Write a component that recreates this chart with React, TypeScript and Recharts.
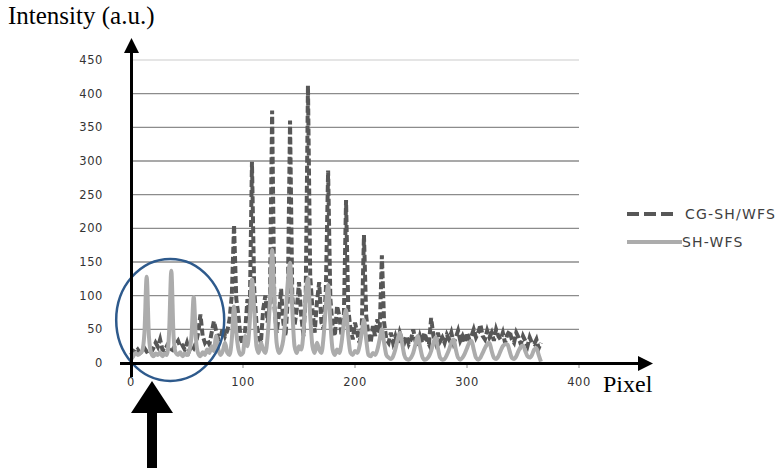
import {
  LineChart,
  Line,
  XAxis,
  YAxis,
  ReferenceLine,
  ReferenceDot,
  Legend,
} from "recharts";

// sampled every 2 pixels, from 0 to 366
const PIXEL_STEP = 2;

const cgShWfs = [
  12, 18, 16, 20, 15, 18, 22, 17, 19, 16,
  22, 30, 24, 35, 20, 18, 25, 20, 16, 22,
  28, 33, 24, 26, 20, 30, 18, 26, 22, 30,
  45, 72, 40, 30, 35, 28, 45, 62, 48, 35,
  38, 52, 40, 48, 65, 100, 205, 95, 70, 35,
  28, 50, 95, 70, 299, 110, 60, 40, 30, 80,
  100, 60, 90, 375, 85, 45, 70, 110, 60, 40,
  95, 360, 100, 55, 80, 120, 70, 40, 100, 412,
  130, 80, 45, 90, 120, 60, 50, 110, 286, 95,
  55, 40, 85, 70, 40, 65, 242, 80, 50, 35,
  60, 45, 30, 50, 190, 70, 40, 30, 55, 40,
  65, 45, 160, 60, 35, 30, 45, 30, 40, 28,
  45, 35, 30, 40, 28, 35, 50, 32, 25, 40,
  30, 45, 35, 28, 67, 40, 30, 45, 32, 38,
  30, 42, 35, 45, 30, 38, 48, 33, 40, 30,
  45, 35, 40, 50, 38, 45, 57, 40, 35, 48,
  38, 45, 33, 50, 40, 35, 45, 30, 42, 48,
  35, 30, 45, 38, 28, 40, 33, 25, 38, 30,
  28, 35, 22, 30,
];

const shWfs = [
  5, 10, 15, 12, 14, 18, 45, 128, 40, 15,
  10, 14, 12, 16, 10, 14, 12, 45, 137, 40,
  15, 12, 16, 10, 14, 12, 18, 40, 98, 35,
  14, 10, 16, 12, 20, 15, 25, 18, 40, 20,
  12, 18, 30, 15, 12, 35, 84, 45, 20, 12,
  15, 40, 25, 60, 124, 80, 25, 15, 30, 20,
  15, 40, 90, 168, 95, 30, 15, 20, 35, 70,
  120, 149, 80, 25, 15, 25, 20, 45, 100, 126,
  70, 25, 15, 30, 20, 15, 40, 85, 116, 60,
  20, 12, 20, 15, 30, 60, 79, 40, 15, 12,
  18, 15, 25, 45, 64, 35, 12, 10, 15, 12,
  20, 35, 50, 30, 12, 8, 6, 10, 20, 35,
  45, 30, 12, 6, 5, 8, 15, 28, 40, 25,
  10, 5, 6, 10, 18, 30, 38, 22, 8, 5,
  6, 12, 20, 30, 35, 20, 8, 5, 8, 14,
  22, 30, 33, 20, 8, 5, 8, 15, 22, 28,
  30, 18, 8, 6, 10, 18, 25, 28, 28, 18,
  8, 6, 10, 18, 24, 26, 18, 10, 8, 12,
  20, 22, 12, 2,
];

const xTicks = [0, 100, 200, 300, 400];
const yTicks = [0, 50, 100, 150, 200, 250, 300, 350, 400, 450];

const data = cgShWfs.map((v, i) => ({
  pixel: i * PIXEL_STEP,
  cg: v,
  sh: shWfs[i],
}));

const DARK = "#575757";
const LIGHT = "#acacac";
const tickFont = {
  fontFamily: "DejaVu Sans",
  fontSize: 11.5,
  fill: "#333",
  letterSpacing: 0.6,
};

const LegendBox = () => (
  <div style={{ fontFamily: "DejaVu Sans", fontSize: 14, color: "#404040", letterSpacing: 1.2 }}>
    <div style={{ display: "flex", alignItems: "center", height: 28 }}>
      <svg width={58} height={10}>
        <line x1={0} y1={5} x2={50} y2={5} stroke={DARK} strokeWidth={4} strokeDasharray="12 5" />
      </svg>
      <span>CG-SH/WFS</span>
    </div>
    <div style={{ display: "flex", alignItems: "center", height: 28 }}>
      <svg width={55} height={10}>
        <line x1={0} y1={5} x2={55} y2={5} stroke={LIGHT} strokeWidth={4} />
      </svg>
      <span>SH-WFS</span>
    </div>
  </div>
);

const App = () => {
  return (
    <div style={{ position: "absolute", left: 0, top: 0, width: 781, height: 470, background: "#fff" }}>
      <LineChart width={781} height={470} data={data} margin={{ top: 60, right: 202, bottom: 77, left: 71 }}>
        {yTicks.slice(1).map((v) => (
          <ReferenceLine key={v} y={v} stroke={v === 450 ? "#dcdcdc" : "#8c8c8c"} strokeWidth={1.3} />
        ))}
        <XAxis
          dataKey="pixel"
          type="number"
          domain={[0, 400]}
          ticks={xTicks}
          axisLine={false}
          tickSize={5}
          tickMargin={10}
          tickLine={{ stroke: "#888" }}
          tick={tickFont}
          height={30}
        />
        <YAxis
          domain={[0, 450]}
          ticks={yTicks}
          axisLine={false}
          tickLine={false}
          tickSize={0}
          tickMargin={28}
          tick={tickFont}
          width={60}
        />
        <Line
          type="linear"
          dataKey="cg"
          stroke={DARK}
          strokeWidth={4}
          strokeDasharray="7 3"
          dot={false}
          activeDot={false}
          isAnimationActive={false}
        />
        <Line
          type="monotone"
          dataKey="sh"
          stroke={LIGHT}
          strokeWidth={4}
          dot={false}
          activeDot={false}
          isAnimationActive={false}
        />
        <ReferenceDot
          x={35}
          y={64}
          r={1}
          shape={(p: any) => (
            <ellipse cx={p.cx} cy={p.cy} rx={54} ry={61} fill="none" stroke="#2e5a8c" strokeWidth={2.5} />
          )}
        />
        <Legend
          layout="vertical"
          align="center"
          verticalAlign="middle"
          content={() => <LegendBox />}
          wrapperStyle={{ position: "absolute", left: 627, top: 200, width: 160 }}
        />
      </LineChart>
      <svg width={781} height={470} style={{ position: "absolute", left: 0, top: 0, pointerEvents: "none" }}>
        <line x1={131.5} y1={377} x2={131.5} y2={50} stroke="#000" strokeWidth={3} />
        <polygon points="131.5,38 124,53 139,53" fill="#000" />
        <line x1={120} y1={363.5} x2={640} y2={363.5} stroke="#000" strokeWidth={3} />
        <polygon points="653,363.5 638,356 638,371" fill="#000" />
        <polygon points="152,381 131,413 147,413 147,468 157,468 157,413 173,413" fill="#000" />
        <text x={8} y={24} fontFamily="Liberation Serif" fontSize={25} fill="#000">
          Intensity (a.u.)
        </text>
        <text x={603} y={392} fontFamily="Liberation Serif" fontSize={24} fill="#000">
          Pixel
        </text>
      </svg>
    </div>
  );
};

export default App;
